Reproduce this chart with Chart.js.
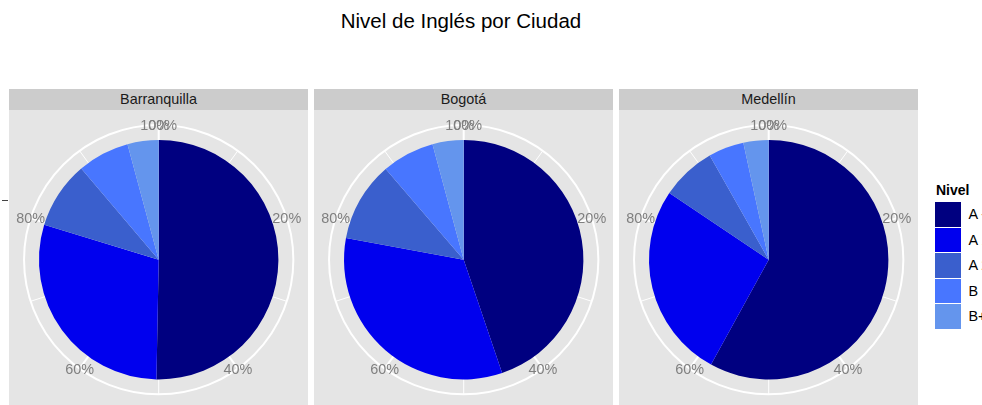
<!DOCTYPE html>
<html>
<head>
<meta charset="utf-8">
<script src="https://cdn.jsdelivr.net/npm/chart.js@4"></script>
<style>
  html, body { margin: 0; padding: 0; background: #ffffff; overflow: hidden; }
  body { width: 982px; height: 405px; position: relative; font-family: "Liberation Sans", Arial, sans-serif; }
  .title { position: absolute; left: 0; width: 922px; top: 9px; text-align: center; font-size: 20.5px; color: #000; }
  .strip { position: absolute; top: 89px; height: 21px; width: 299px; background: #cccccc; color: #1a1a1a;
           font-size: 14.4px; line-height: 21px; text-align: center; }
  .panel { position: absolute; top: 110px; }
  .legend-title { position: absolute; left: 936px; top: 182px; font-size: 14px; font-weight: bold; color: #000; }
  .key { position: absolute; left: 935px; width: 25.5px; height: 24.5px; }
  .key-label { position: absolute; left: 968.5px; font-size: 14.4px; color: #000; white-space: nowrap; line-height: 24.5px; }
  .ytick { position: absolute; left: 2px; top: 199.5px; width: 6px; height: 1px; background: #444; }
</style>
</head>
<body>
<div class="title">Nivel de Inglés por Ciudad</div>
<div class="ytick"></div>
<div id="panels"></div>
<div id="legend"></div>
<script>
// percentages per level (clockwise from top)
var cities = ["Barranquilla", "Bogotá", "Medellín"];
var levels = ["A -", "A 1", "A 2", "B 1", "B+"];
var levelColors = ["#000080", "#0000ee", "#3a5fcd", "#4876ff", "#6495ed"];
var barranquilla = [50.3, 29.4, 9.1, 7.0, 4.2];
var bogota = [44.8, 33.1, 10.8, 7.1, 4.2];
var medellin = [58.0, 26.4, 7.4, 4.8, 3.4];
var tickValues = [0, 20, 40, 60, 80, 100];
var tickLabels = ["0%", "20%", "40%", "60%", "80%", "100%"];

var cityValues = [barranquilla, bogota, medellin];
var panelLeft = [9, 314, 619];
var PANEL_W = 299, PANEL_H = 295;

// ggplot-style polar background: grey panel, outer circle, spokes, theta labels
var polarGrid = {
  id: "polarGrid",
  beforeDraw: function (chart) {
    var ctx = chart.ctx;
    ctx.save();
    ctx.fillStyle = "#e5e5e5";
    ctx.fillRect(0, 0, chart.width, chart.height);
    ctx.restore();
  },
  beforeDatasetsDraw: function (chart) {
    var arc = chart.getDatasetMeta(0).data[0];
    if (!arc) return;
    var ctx = chart.ctx;
    var cx = arc.x, cy = arc.y, r = arc.outerRadius * 0.45 / 0.4;
    ctx.save();
    ctx.strokeStyle = "#ffffff";
    ctx.lineWidth = 2;
    ctx.beginPath();
    ctx.arc(cx, cy, r, 0, Math.PI * 2);
    ctx.stroke();
    for (var v = 0; v < 100; v += 10) {
      var a = -Math.PI / 2 + (v / 100) * Math.PI * 2;
      ctx.lineWidth = v % 20 === 0 ? 2 : 1;
      ctx.beginPath();
      ctx.moveTo(cx, cy);
      ctx.lineTo(cx + r * Math.cos(a), cy + r * Math.sin(a));
      ctx.stroke();
    }
    ctx.restore();
  },
  afterDraw: function (chart) {
    var arc = chart.getDatasetMeta(0).data[0];
    if (!arc) return;
    var ctx = chart.ctx;
    var cx = arc.x, cy = arc.y, r = arc.outerRadius * 0.45 / 0.4;
    ctx.save();
    ctx.font = '14.4px "Liberation Sans", Arial, sans-serif';
    ctx.fillStyle = "#7f7f7f";
    ctx.textAlign = "center";
    ctx.textBaseline = "middle";
    tickValues.forEach(function (v, i) {
      var a = -Math.PI / 2 + (v / 100) * Math.PI * 2;
      ctx.fillText(tickLabels[i], cx + r * Math.cos(a), cy + r * Math.sin(a) + 1);
    });
    ctx.restore();
  }
};

var panelsEl = document.getElementById("panels");
cities.forEach(function (city, i) {
  var strip = document.createElement("div");
  strip.className = "strip";
  strip.style.left = panelLeft[i] + "px";
  strip.textContent = city;
  panelsEl.appendChild(strip);

  var canvas = document.createElement("canvas");
  canvas.className = "panel";
  canvas.width = PANEL_W;
  canvas.height = PANEL_H;
  canvas.style.left = panelLeft[i] + "px";
  canvas.style.width = PANEL_W + "px";
  canvas.style.height = PANEL_H + "px";
  panelsEl.appendChild(canvas);

  new Chart(canvas, {
    type: "pie",
    data: {
      labels: levels,
      datasets: [{
        data: cityValues[i],
        backgroundColor: levelColors,
        borderWidth: 0
      }]
    },
    options: {
      responsive: false,
      animation: false,
      events: [],
      radius: 119.7,
      layout: { padding: { top: 4.4, left: 0.4 } },
      plugins: {
        legend: { display: false },
        tooltip: { enabled: false },
        title: { display: false }
      }
    },
    plugins: [polarGrid]
  });
});

// legend
var legendEl = document.getElementById("legend");
var lt = document.createElement("div");
lt.className = "legend-title";
lt.textContent = "Nivel";
legendEl.appendChild(lt);
levels.forEach(function (lv, i) {
  var top = 202 + i * 25.5;
  var key = document.createElement("div");
  key.className = "key";
  key.style.top = top + "px";
  key.style.background = levelColors[i];
  legendEl.appendChild(key);
  var lab = document.createElement("div");
  lab.className = "key-label";
  lab.style.top = top + "px";
  lab.textContent = lv;
  legendEl.appendChild(lab);
});
</script>
</body>
</html>
